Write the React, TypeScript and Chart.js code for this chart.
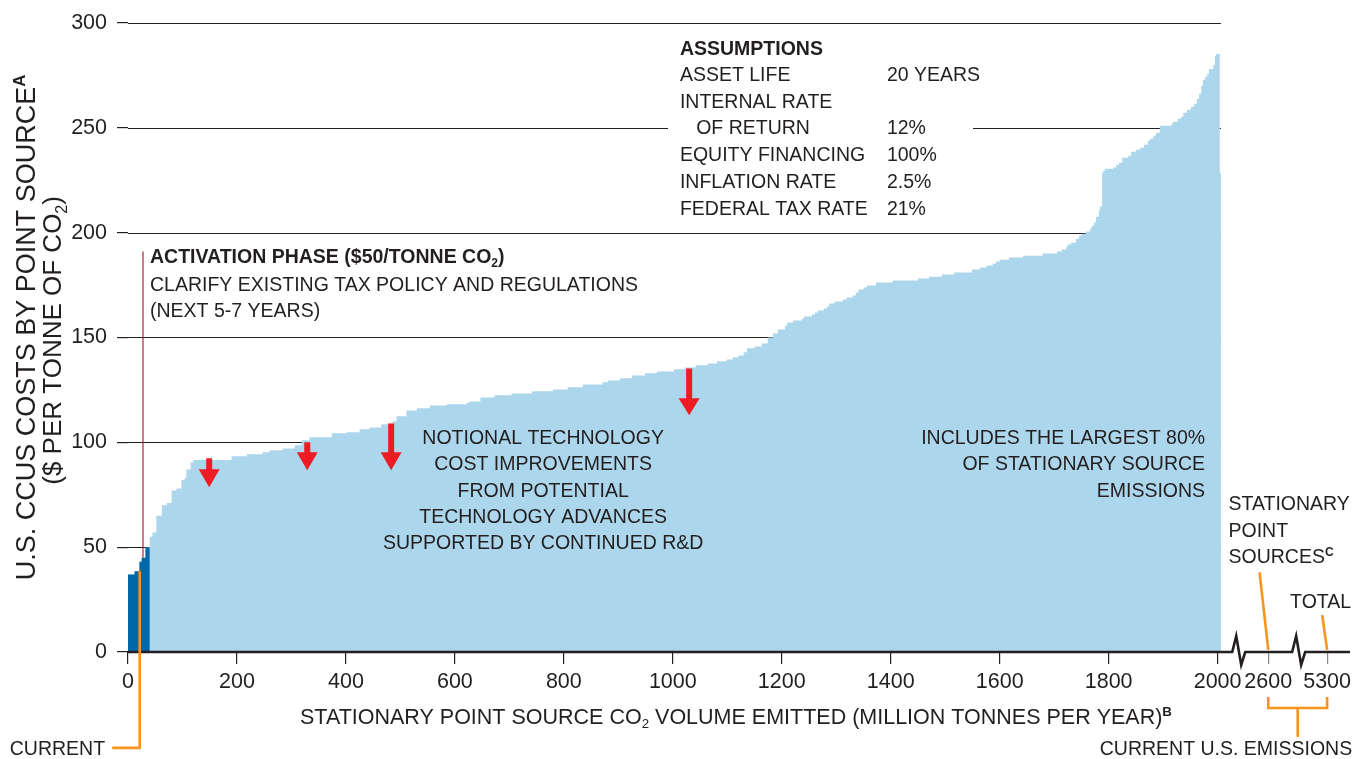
import React, { useEffect, useRef } from "react";
import { Chart, registerables } from "chart.js";

Chart.register(...registerables);

const FONT = '"Liberation Sans", Arial, "Helvetica Neue", sans-serif';
const INK = "#231f20";
const LIGHT_BLUE = "#acd6eb";
const DARK_BLUE = "#0067a9";
const RED = "#ed1c24";
const ORANGE = "#f7941d";
const MAROON = "#b31f3b";

// Right edge (cumulative million tonnes / year) of each point-source step
const stepEnds = [
  12, 21, 25, 32, 40,
  45, 52, 62, 71, 80, 89, 98, 104, 107, 115, 120,
  190, 218, 247, 260, 284, 306, 319,
  333, 374, 401, 425, 443, 465, 486,
  493, 511, 530, 554, 585, 622, 627,
  647, 673, 704, 741, 780, 807, 835,
  871, 881, 903, 925, 949, 971, 1002,
  1022, 1042, 1064, 1081, 1099, 1110, 1121,
  1130, 1136, 1150, 1163, 1174, 1184,
  1193, 1206, 1210, 1221, 1237, 1241, 1255,
  1261, 1266, 1277, 1283, 1287, 1297, 1312,
  1319, 1330, 1336, 1341, 1350, 1356, 1373,
  1404, 1450, 1470, 1494, 1516, 1549, 1564,
  1576, 1587, 1593, 1600, 1617, 1643, 1679,
  1705, 1714, 1722, 1725, 1731, 1740, 1746,
  1751, 1758, 1766, 1769, 1773, 1777, 1782,
  1784, 1788, 1790, 1793, 1808, 1814, 1819,
  1825, 1836, 1841, 1850, 1858, 1865, 1872,
  1876, 1882, 1887, 1894, 1915, 1918, 1927,
  1933, 1937, 1944, 1951, 1957, 1962, 1966,
  1970, 1973, 1977, 1981, 1984, 1992, 1995,
  1997, 2004, 2006,
];

// Cost ($ per tonne CO2) of each step
const stepCosts = [
  37, 38.5, 43, 45, 50,
  55, 57, 65, 70, 71, 77, 78, 82, 83, 87, 90.5,
  91.5, 93.3, 94.3, 95.2, 96.2, 97.1, 98.6,
  101, 102.4, 104.3, 104.8, 106.2, 107.1, 108.6,
  110, 112.4, 115.2, 116.2, 117.6, 118.1, 119,
  119.5, 121.4, 122.4, 123.3, 124.3, 125.2, 126.2,
  127.6, 128.6, 129.5, 130.5, 131.9, 132.9, 133.8,
  134.8, 135.7, 136.7, 137.6, 138.6, 139.5, 140.5,
  141.4, 142.9, 144.8, 145.7, 147.1, 150,
  151.9, 153.8, 155.7, 157.1, 158.1, 159, 160,
  161, 161.9, 162.9, 163.8, 164.8, 166.2, 167.1,
  168.1, 169, 170, 171.4, 172.9, 173.8, 174.8,
  176.2, 177.1, 178.1, 179, 180, 181, 182.4,
  183.3, 184.3, 185.2, 186.2, 187.1, 188.1, 189,
  190, 191, 191.9, 193.3, 194.3, 195.2, 197.1,
  198.6, 199.5, 200.5, 201.9, 203.3, 204.8, 207.6,
  210.5, 212.4, 228.6, 229.5, 230.5, 231, 232.4,
  233.3, 235.7, 236.7, 238.6, 239.5, 240.5, 241.9,
  243.8, 244.8, 246.2, 247.6, 251, 251.9, 252.9,
  254.3, 255.2, 257.1, 258.6, 260, 261.4, 263.8,
  266.2, 270, 272.9, 274.3, 275.7, 278, 280,
  284.3, 285.2, 228.6,
];

const ACTIVATION_PRICE = 50;
const gridValues = [50, 100, 150, 200, 250, 300];
const xTickValues = [0, 200, 400, 600, 800, 1000, 1200, 1400, 1600, 1800, 2000, 2093, 2201];
const xTickLabels = ["0", "200", "400", "600", "800", "1000", "1200", "1400", "1600", "1800", "2000", "2600", "5300"];
const axisBreaks = [2036, 2146];

const assumptionLabels = ["ASSET LIFE", "INTERNAL RATE", "   OF RETURN", "EQUITY FINANCING", "INFLATION RATE", "FEDERAL TAX RATE"];
const assumptionValues = ["20 YEARS", "", "12%", "100%", "2.5%", "21%"];
const notionalLines = ["NOTIONAL TECHNOLOGY", "COST IMPROVEMENTS", "FROM POTENTIAL", "TECHNOLOGY ADVANCES", "SUPPORTED BY CONTINUED R&D"];
const largestLines = ["INCLUDES THE LARGEST 80%", "OF STATIONARY SOURCE", "EMISSIONS"];

// arrows: [x, shaft top, head start, tip] in data units
const arrows = [
  [149, 92.4, 87.1, 78.6],
  [329, 100, 95.2, 86.7],
  [483, 109, 95.2, 86.7],
  [1030, 135.2, 121, 112.9],
];

function stepPoints(ends: number[], costs: number[]) {
  const pts: { x: number; y: number }[] = [];
  let start = 0;
  for (let i = 0; i < ends.length; i++) {
    pts.push({ x: start, y: costs[i] });
    start = ends[i];
  }
  pts.push({ x: ends[ends.length - 1], y: costs[costs.length - 1] });
  return pts;
}

const darkCount = stepCosts.findIndex((c) => c > ACTIVATION_PRICE);
const allPoints = stepPoints(stepEnds, stepCosts);
const darkPoints = stepPoints(stepEnds.slice(0, darkCount), stepCosts.slice(0, darkCount));

function costAt(v: number) {
  let start = 0;
  for (let i = 0; i < stepEnds.length; i++) {
    if (v >= start && v < stepEnds[i]) return stepCosts[i];
    start = stepEnds[i];
  }
  return 0;
}

type Seg = { t: string; k?: "sub" | "sup" };
const fnt = (size: number, bold = false) => `${bold ? "bold " : ""}${size}px ${FONT}`;

function drawRich(
  ctx: CanvasRenderingContext2D,
  segs: Seg[],
  x: number,
  yMid: number,
  size: number,
  bold: boolean,
  align: "left" | "center" | "right"
) {
  const small = size * 0.62;
  let w = 0;
  const isBold = (s: Seg) => bold || s.k === "sup";
  const widths = segs.map((s) => {
    ctx.font = fnt(s.k ? small : size, isBold(s));
    const m = ctx.measureText(s.t).width;
    w += m;
    return m;
  });
  let cx = align === "left" ? x : align === "center" ? x - w / 2 : x - w;
  const base = yMid + size * 0.36;
  ctx.textAlign = "left";
  ctx.textBaseline = "alphabetic";
  segs.forEach((s, i) => {
    ctx.font = fnt(s.k ? small : size, isBold(s));
    const dy = s.k === "sub" ? size * 0.2 : s.k === "sup" ? -size * 0.36 : 0;
    ctx.fillText(s.t, cx, base + dy);
    cx += widths[i];
  });
}

const TXT = 19.5;

const overlay = {
  id: "overlay",
  beforeDatasetsDraw(chart: any) {
    const { ctx, chartArea, scales } = chart;
    const x = scales.x;
    const y = scales.y;
    ctx.save();
    ctx.strokeStyle = INK;
    ctx.lineWidth = 1.2;
    const xEnd = x.getPixelForValue(stepEnds[stepEnds.length - 1]);
    for (const v of gridValues) {
      const py = Math.round(y.getPixelForValue(v)) + 0.5;
      ctx.beginPath();
      ctx.moveTo(chartArea.left, py);
      ctx.lineTo(xEnd, py);
      ctx.stroke();
    }
    // white panel behind the assumptions
    ctx.fillStyle = "#ffffff";
    const bx0 = x.getPixelForValue(991);
    const bx1 = x.getPixelForValue(1551);
    const by0 = y.getPixelForValue(294);
    const by1 = y.getPixelForValue(206);
    ctx.fillRect(bx0, by0, bx1 - bx0, by1 - by0);
    ctx.restore();
  },
  afterDatasetsDraw(chart: any) {
    const { ctx, chartArea, scales } = chart;
    const x = scales.x;
    const y = scales.y;
    const X = (v: number) => x.getPixelForValue(v);
    const Y = (v: number) => y.getPixelForValue(v);
    ctx.save();

    // x axis line with breaks
    const y0 = Y(0);
    ctx.strokeStyle = INK;
    ctx.lineWidth = 2.6;
    ctx.lineJoin = "miter";
    ctx.beginPath();
    ctx.moveTo(chartArea.left, y0);
    for (const b of axisBreaks) {
      const bx = X(b);
      ctx.lineTo(bx - 5, y0);
      ctx.lineTo(bx - 1, y0 - 16);
      ctx.lineTo(bx + 4, y0 + 13);
      ctx.lineTo(bx + 8, y0);
    }
    ctx.lineTo(chartArea.right, y0);
    ctx.stroke();

    // activation phase line
    ctx.strokeStyle = MAROON;
    ctx.lineWidth = 1.2;
    ctx.beginPath();
    ctx.moveTo(X(27.5), Y(191));
    ctx.lineTo(X(27.5), Y(costAt(27.5)));
    ctx.stroke();

    // orange leader lines
    ctx.strokeStyle = ORANGE;
    ctx.lineWidth = 2.6;
    ctx.lineCap = "butt";
    ctx.beginPath();
    ctx.moveTo(X(21.5), Y(costAt(20)));
    ctx.lineTo(X(21.5), Y(-45.7));
    ctx.lineTo(X(-29), Y(-45.7));
    ctx.stroke();
    ctx.beginPath();
    ctx.moveTo(X(2077), Y(38));
    ctx.lineTo(X(xTickValues[11]), Y(1));
    ctx.stroke();
    ctx.beginPath();
    ctx.moveTo(X(2192), Y(17.6));
    ctx.lineTo(X(xTickValues[12]), Y(1));
    ctx.stroke();
    // bracket
    ctx.beginPath();
    ctx.moveTo(X(xTickValues[11]), Y(-21.4));
    ctx.lineTo(X(xTickValues[11]), Y(-26.7));
    ctx.lineTo(X(xTickValues[12]), Y(-26.7));
    ctx.lineTo(X(xTickValues[12]), Y(-21.4));
    ctx.stroke();
    const mid = (X(xTickValues[11]) + X(xTickValues[12])) / 2;
    ctx.beginPath();
    ctx.moveTo(mid, Y(-26.7));
    ctx.lineTo(mid, Y(-40.5));
    ctx.stroke();

    // red arrows
    ctx.fillStyle = RED;
    for (const [ax, top, head, tip] of arrows) {
      const px = X(ax);
      ctx.fillRect(px - 3, Y(top), 6, Y(head) - Y(top) + 1);
      ctx.beginPath();
      ctx.moveTo(px - 10.5, Y(head));
      ctx.lineTo(px + 10.5, Y(head));
      ctx.lineTo(px, Y(tip));
      ctx.closePath();
      ctx.fill();
    }

    // texts
    ctx.fillStyle = INK;
    // activation phase
    drawRich(ctx, [{ t: "ACTIVATION PHASE ($50/TONNE CO" }, { t: "2", k: "sub" }, { t: ")" }], X(40.4), Y(189), TXT, true, "left");
    drawRich(ctx, [{ t: "CLARIFY EXISTING TAX POLICY AND REGULATIONS" }], X(40.4), Y(175.7), TXT, false, "left");
    drawRich(ctx, [{ t: "(NEXT 5-7 YEARS)" }], X(40.4), Y(162.9), TXT, false, "left");

    // assumptions
    const rowY = [275.7, 262.9, 250.5, 237.6, 224.8, 211.9];
    drawRich(ctx, [{ t: "ASSUMPTIONS" }], X(1013), Y(288.1), TXT, true, "left");
    assumptionLabels.forEach((l, i) => {
      drawRich(ctx, [{ t: l }], X(1013), Y(rowY[i]), TXT, false, "left");
      if (assumptionValues[i]) drawRich(ctx, [{ t: assumptionValues[i] }], X(1393), Y(rowY[i]), TXT, false, "left");
    });

    // notional
    const nY = [102.4, 90, 77.1, 64.8, 52.4];
    notionalLines.forEach((l, i) => drawRich(ctx, [{ t: l }], X(762), Y(nY[i]), TXT, false, "center"));
    largestLines.forEach((l, i) => drawRich(ctx, [{ t: l }], X(1977), Y(nY[i]), TXT, false, "right"));

    // right labels
    drawRich(ctx, [{ t: "STATIONARY" }], X(2020), Y(71), TXT, false, "left");
    drawRich(ctx, [{ t: "POINT" }], X(2020), Y(58.1), TXT, false, "left");
    drawRich(ctx, [{ t: "SOURCES" }, { t: "C", k: "sup" }], X(2020), Y(45.7), TXT, false, "left");
    drawRich(ctx, [{ t: "TOTAL" }], X(2133), Y(24.3), TXT, false, "left");

    drawRich(ctx, [{ t: "CURRENT" }], X(-42), Y(-45.7), TXT, false, "right");
    drawRich(ctx, [{ t: "CURRENT U.S. EMISSIONS" }], X(2247), Y(-45.7), TXT, false, "right");

    // x title
    drawRich(
      ctx,
      [{ t: "STATIONARY POINT SOURCE CO" }, { t: "2", k: "sub" }, { t: " VOLUME EMITTED (MILLION TONNES PER YEAR)" }, { t: "B", k: "sup" }],
      X(1116),
      Y(-30.5),
      21.5,
      false,
      "center"
    );

    // y title (rotated)
    ctx.save();
    ctx.translate(X(-189), Y(154.8));
    ctx.rotate(-Math.PI / 2);
    drawRich(ctx, [{ t: "U.S. CCUS COSTS BY POINT SOURCE" }, { t: "A", k: "sup" }], 0, 0, 27, false, "center");
    ctx.restore();
    ctx.save();
    ctx.translate(X(-139.5), Y(148.6));
    ctx.rotate(-Math.PI / 2);
    drawRich(ctx, [{ t: "($ PER TONNE OF CO" }, { t: "2", k: "sub" }, { t: ")" }], 0, 0, 26, false, "center");
    ctx.restore();

    ctx.restore();
  },
};

export default function App() {
  const ref = useRef<HTMLCanvasElement>(null);
  useEffect(() => {
    document.body.style.margin = "0";
    const chart = new Chart(ref.current as HTMLCanvasElement, {
      type: "line",
      data: {
        datasets: [
          {
            label: "activation",
            data: darkPoints,
            stepped: true,
            fill: "origin",
            backgroundColor: DARK_BLUE,
            borderColor: DARK_BLUE,
            borderWidth: 0,
            pointRadius: 0,
            order: 0,
          },
          {
            label: "sources",
            data: allPoints,
            stepped: true,
            fill: "origin",
            backgroundColor: LIGHT_BLUE,
            borderColor: LIGHT_BLUE,
            borderWidth: 0,
            pointRadius: 0,
            order: 1,
          },
        ],
      },
      options: {
        responsive: false,
        animation: false,
        devicePixelRatio: 1,
        layout: { padding: { top: 22, right: 16, left: 0, bottom: 0 } },
        plugins: { legend: { display: false }, tooltip: { enabled: false } },
        scales: {
          x: {
            type: "linear",
            min: 0,
            max: 2243,
            afterBuildTicks: (scale: any) => {
              scale.ticks = xTickValues.map((v) => ({ value: v }));
            },
            afterFit: (scale: any) => {
              scale.height = 107;
            },
            ticks: {
              autoSkip: false,
              maxRotation: 0,
              minRotation: 0,
              padding: 5,
              color: INK,
              font: { family: FONT, size: 21.5 },
              callback: (value: any) => {
                const i = xTickValues.indexOf(Number(value));
                return i >= 0 ? xTickLabels[i] : "";
              },
            },
            grid: {
              drawOnChartArea: false,
              drawTicks: true,
              tickLength: 12,
              lineWidth: 1.2,
              color: (c: any) => (c.tick && c.tick.value > 2000 ? "#8a8a8a" : INK),
            },
            border: { display: false },
          },
          y: {
            type: "linear",
            min: 0,
            max: 300,
            afterFit: (scale: any) => {
              scale.width = 128;
            },
            ticks: {
              stepSize: 50,
              padding: 10,
              color: INK,
              font: { family: FONT, size: 21.5 },
            },
            grid: {
              drawOnChartArea: false,
              drawTicks: true,
              tickLength: 11,
              lineWidth: 1.2,
              color: INK,
            },
            border: { display: false },
          },
        },
      },
      plugins: [overlay],
    } as any);
    return () => chart.destroy();
  }, []);
  return (
    <div style={{ position: "absolute", left: 0, top: 0, width: 1366, height: 759, background: "#fff" }}>
      <canvas ref={ref} width={1366} height={759} style={{ display: "block", width: 1366, height: 759 }} />
    </div>
  );
}
